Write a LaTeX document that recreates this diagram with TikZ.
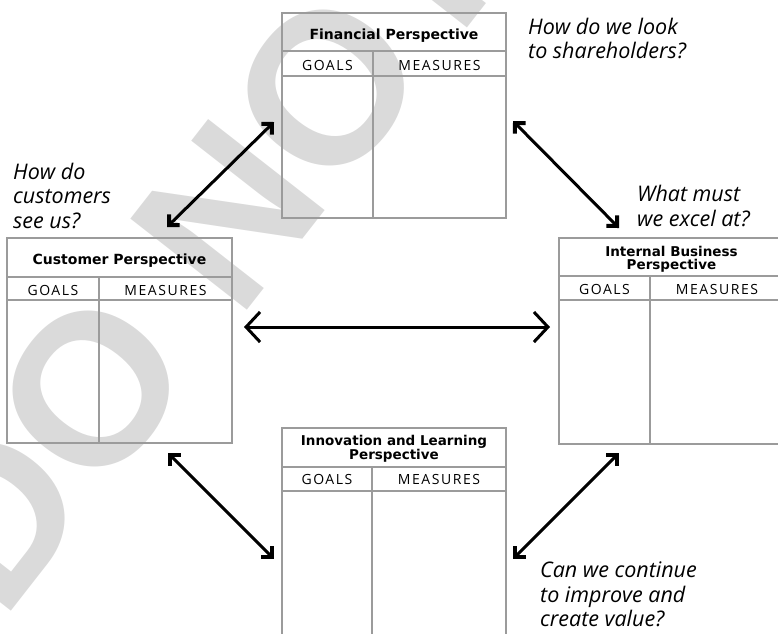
\documentclass[tikz,border=0pt]{standalone}
\usepackage{fontspec}
\setmainfont{Open Sans}
\newfontfamily\markfont{Liberation Sans}
\newfontfamily\titlefont{DejaVu Sans}
\usetikzlibrary{arrows.meta}
\definecolor{boxgray}{RGB}{155,155,155}
\definecolor{markgray}{RGB}{218,218,218}

\begin{document}
\begin{tikzpicture}[x=1pt,y=-1pt,
	boxline/.style={line width=2.5pt, draw=boxgray},
	titletext/.style={font=\titlefont\bfseries\fontsize{14}{14}\selectfont, inner sep=0pt, text height=10pt, text depth=0pt},
	twolines/.style={font=\titlefont\bfseries\fontsize{13.5}{13.5}\selectfont, inner sep=0pt, align=center},
	headtext/.style={font=\fontsize{14}{14}\selectfont\addfontfeatures{LetterSpace=11}, inner sep=0pt, text height=10pt, text depth=0pt},
	question/.style={font=\fontsize{21.5}{24.5}\selectfont\itshape, align=left, anchor=north west, inner sep=0pt},
	twoway/.style={line width=3pt, {Straight Barb[length=7.5pt,width=15pt,line width=4pt]}-{Straight Barb[length=7.5pt,width=15pt,line width=4pt]}},
	wideheads/.style={{Straight Barb[length=14pt,width=30pt]}-{Straight Barb[length=14pt,width=30pt]}}]

	%Frame
	\clip (0,0) rectangle (778,633);

	%Watermark
	\node[rotate=52, text=markgray, font=\markfont\bfseries\fontsize{215}{215}\selectfont, inner sep=0pt] (mark) at (202,248) {DO NOT};

	%Perspectives
	%Financial
	\draw[boxline] (282,13) rectangle (506,218);
	\draw[boxline] (282,51) -- (506,51) (282,76) -- (506,76) (373,51) -- (373,218);
	\node[titletext] (fin) at (394,34.2) {Financial Perspective};
	\node[headtext] (fingoals) at (327.5,65.3) {GOALS};
	\node[headtext] (finmeas) at (439.5,65.3) {MEASURES};

	%Customer
	\draw[boxline] (7,238) rectangle (232,443);
	\draw[boxline] (7,277) -- (232,277) (7,300) -- (232,300) (99,277) -- (99,443);
	\node[titletext] (cus) at (119.5,259.7) {Customer Perspective};
	\node[headtext] (cusgoals) at (53,290.3) {GOALS};
	\node[headtext] (cusmeas) at (165.5,290.3) {MEASURES};

	%Internal Business
	\draw[boxline] (559,238) rectangle (784,444);
	\draw[boxline] (559,276) -- (784,276) (559,300) -- (784,300) (650,276) -- (650,444);
	\node[twolines] (int) at (671.5,259.4) {Internal Business\\Perspective};
	\node[headtext] (intgoals) at (604.5,289.5) {GOALS};
	\node[headtext] (intmeas) at (717,289.5) {MEASURES};

	%Innovation and Learning
	\draw[boxline] (282,428) rectangle (506,650);
	\draw[boxline] (282,467) -- (506,467) (282,491) -- (506,491) (372,467) -- (372,650);
	\node[twolines] (inn) at (394,449) {Innovation and Learning\\Perspective};
	\node[headtext] (inngoals) at (327,479.7) {GOALS};
	\node[headtext] (innmeas) at (439,479.7) {MEASURES};

	%Questions
	\node[question] (qfin) at (528,17.5) {How do we look\\to shareholders?};
	\node[question] (qcus) at (13,162.5) {How do\\customers\\see us?};
	\node[question] (qint) at (637,185) {What must\\we excel at?};
	\node[question] (qinn) at (540,561.5) {Can we continue\\to improve and\\create value?};

	%Arrows
	\coordinate (cusA) at (167,227);
	\coordinate (finA) at (274,122);
	\coordinate (finB) at (513,121);
	\coordinate (intA) at (619,228);
	\coordinate (cusB) at (244,327);
	\coordinate (intB) at (550,327);
	\coordinate (cusC) at (168,453);
	\coordinate (innA) at (274,559);
	\coordinate (innB) at (513,559);
	\coordinate (intC) at (619,453);
	\draw[twoway] (cusA) -- (finA);
	\draw[twoway] (finB) -- (intA);
	\draw[twoway, wideheads] (cusB) -- (intB);
	\draw[twoway] (cusC) -- (innA);
	\draw[twoway] (innB) -- (intC);

\end{tikzpicture}
\end{document}
